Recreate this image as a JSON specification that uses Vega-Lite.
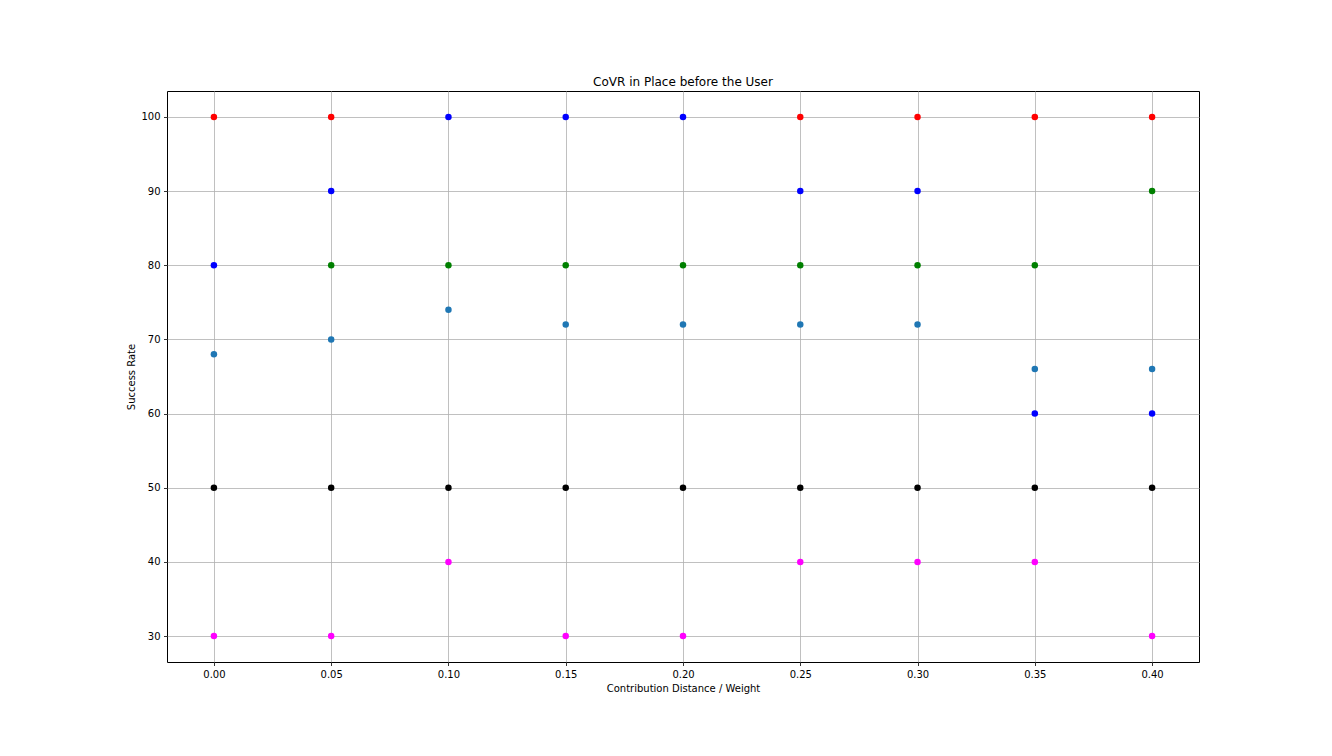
{
  "$schema": "https://vega.github.io/schema/vega-lite/v6.json",
  "width": 1032,
  "height": 571,
  "autosize": {"type": "none"},
  "padding": {"left": 167, "top": 91, "right": 133, "bottom": 94},
  "background": "white",
  "title": {"text": "CoVR in Place before the User", "font": "DejaVu Sans", "fontSize": 12, "fontWeight": "normal", "color": "black", "offset": 2},
  "config": {
    "view": {"stroke": "black", "strokeWidth": 1},
    "axis": {
      "domain": false,
      "grid": true,
      "gridColor": "#b0b0b0",
      "gridWidth": 0.8,
      "gridOpacity": 1,
      "tickColor": "black",
      "tickSize": 3.5,
      "tickWidth": 0.8,
      "labelFont": "DejaVu Sans",
      "labelFontSize": 10,
      "labelColor": "black",
      "labelPadding": 3.5,
      "titleFont": "DejaVu Sans",
      "titleFontSize": 10,
      "titleFontWeight": "normal",
      "titleColor": "black",
      "titlePadding": 4
    }
  },
  "data": {
    "values": [
      {"x": 0.00, "y": 100, "s": "red"},
      {"x": 0.00, "y": 80, "s": "blue"},
      {"x": 0.00, "y": 68, "s": "tab"},
      {"x": 0.00, "y": 50, "s": "black"},
      {"x": 0.00, "y": 30, "s": "magenta"},
      {"x": 0.05, "y": 100, "s": "red"},
      {"x": 0.05, "y": 90, "s": "blue"},
      {"x": 0.05, "y": 80, "s": "green"},
      {"x": 0.05, "y": 70, "s": "tab"},
      {"x": 0.05, "y": 50, "s": "black"},
      {"x": 0.05, "y": 30, "s": "magenta"},
      {"x": 0.10, "y": 100, "s": "blue"},
      {"x": 0.10, "y": 80, "s": "green"},
      {"x": 0.10, "y": 74, "s": "tab"},
      {"x": 0.10, "y": 50, "s": "black"},
      {"x": 0.10, "y": 40, "s": "magenta"},
      {"x": 0.15, "y": 100, "s": "blue"},
      {"x": 0.15, "y": 80, "s": "green"},
      {"x": 0.15, "y": 72, "s": "tab"},
      {"x": 0.15, "y": 50, "s": "black"},
      {"x": 0.15, "y": 30, "s": "magenta"},
      {"x": 0.20, "y": 100, "s": "blue"},
      {"x": 0.20, "y": 80, "s": "green"},
      {"x": 0.20, "y": 72, "s": "tab"},
      {"x": 0.20, "y": 50, "s": "black"},
      {"x": 0.20, "y": 30, "s": "magenta"},
      {"x": 0.25, "y": 100, "s": "red"},
      {"x": 0.25, "y": 90, "s": "blue"},
      {"x": 0.25, "y": 80, "s": "green"},
      {"x": 0.25, "y": 72, "s": "tab"},
      {"x": 0.25, "y": 50, "s": "black"},
      {"x": 0.25, "y": 40, "s": "magenta"},
      {"x": 0.30, "y": 100, "s": "red"},
      {"x": 0.30, "y": 90, "s": "blue"},
      {"x": 0.30, "y": 80, "s": "green"},
      {"x": 0.30, "y": 72, "s": "tab"},
      {"x": 0.30, "y": 50, "s": "black"},
      {"x": 0.30, "y": 40, "s": "magenta"},
      {"x": 0.35, "y": 100, "s": "red"},
      {"x": 0.35, "y": 80, "s": "green"},
      {"x": 0.35, "y": 66, "s": "tab"},
      {"x": 0.35, "y": 60, "s": "blue"},
      {"x": 0.35, "y": 50, "s": "black"},
      {"x": 0.35, "y": 40, "s": "magenta"},
      {"x": 0.40, "y": 100, "s": "red"},
      {"x": 0.40, "y": 90, "s": "green"},
      {"x": 0.40, "y": 66, "s": "tab"},
      {"x": 0.40, "y": 60, "s": "blue"},
      {"x": 0.40, "y": 50, "s": "black"},
      {"x": 0.40, "y": 30, "s": "magenta"}
    ]
  },
  "mark": {"type": "point", "filled": true, "shape": "circle", "size": 42, "opacity": 1},
  "encoding": {
    "x": {
      "field": "x", "type": "quantitative",
      "scale": {"domain": [-0.02, 0.42], "nice": false, "zero": false},
      "axis": {"title": "Contribution Distance / Weight", "values": [0, 0.05, 0.1, 0.15, 0.2, 0.25, 0.3, 0.35, 0.4], "format": ".2f"}
    },
    "y": {
      "field": "y", "type": "quantitative",
      "scale": {"domain": [26.5, 103.5], "nice": false, "zero": false},
      "axis": {"title": "Success Rate", "values": [30, 40, 50, 60, 70, 80, 90, 100]}
    },
    "color": {
      "field": "s", "type": "nominal", "legend": null,
      "scale": {"domain": ["red", "blue", "green", "tab", "black", "magenta"], "range": ["#ff0000", "#0000ff", "#008000", "#1f77b4", "#000000", "#ff00ff"]}
    }
  }
}
